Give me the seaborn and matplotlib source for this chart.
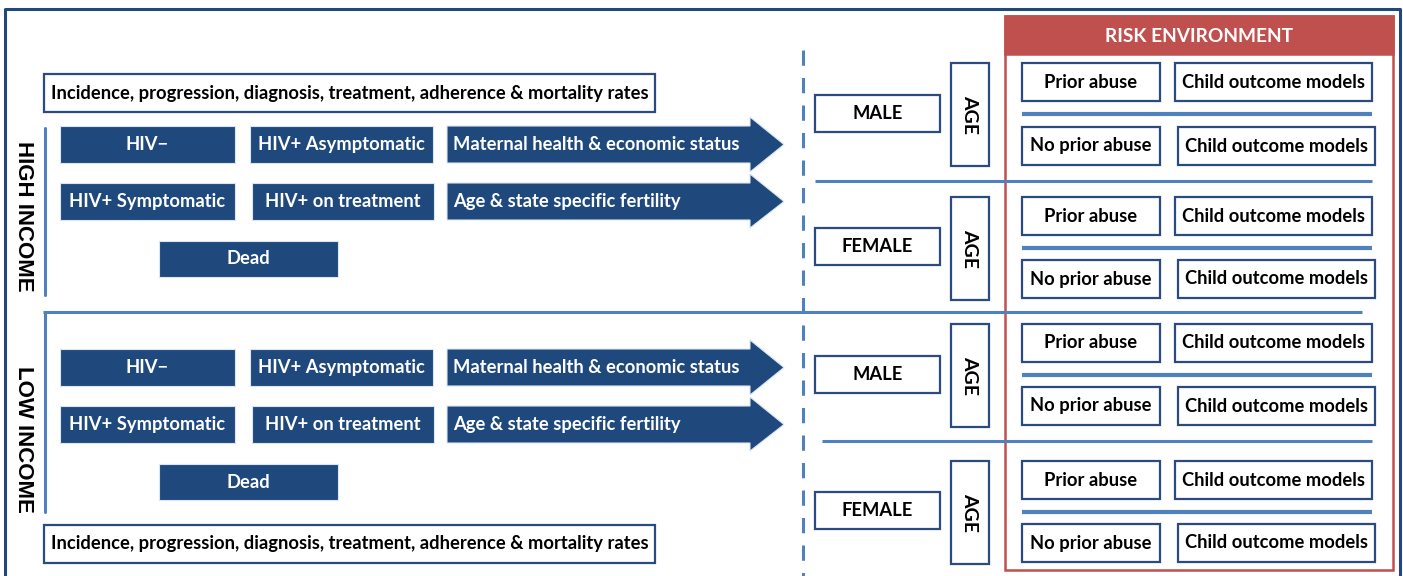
import matplotlib
matplotlib.use("Agg")
import matplotlib.pyplot as plt
from matplotlib.patches import Rectangle, Polygon
import seaborn as sns

# ── Diagram labels ─────────────────────────────────────────────────────────────
INCOME_GROUPS = ["HIGH INCOME", "LOW INCOME"]
RATES_LABEL   = "Incidence, progression, diagnosis, treatment, adherence & mortality rates"
STATES_ROW1   = ["HIV\u2212", "HIV+ Asymptomatic"]
STATES_ROW2   = ["HIV+ Symptomatic", "HIV+ on treatment"]
STATE_DEAD    = "Dead"
ARROW_LABELS  = ["Maternal health & economic status", "Age & state specific fertility"]
SEXES         = ["MALE", "FEMALE"]
AGE_LABEL     = "AGE"
RISK_TITLE    = "RISK ENVIRONMENT"
ABUSE_GROUPS  = ["Prior abuse", "No prior abuse"]
OUTCOME_LABEL = "Child outcome models"

# ── Colours ────────────────────────────────────────────────────────────────────
NAVY   = "#1f497d"
EDGE   = "#2a4a80"
LBLUE  = "#4f81bd"
RED    = "#c0504d"
FONT   = ["Lato", "DejaVu Sans"]
FS     = 13.2

sns.set_theme(style="white")
plt.rcParams["font.family"] = FONT

fig = plt.figure(figsize=(14.03, 5.76), dpi=100)
ax = fig.add_axes([0, 0, 1, 1])
ax.set_xlim(0, 1403)
ax.set_ylim(576, 0)
ax.axis("off")


def box(x0, y0, x1, y1, text, fill="white", tcolor="black", edge=EDGE,
        size=FS, rot=0, lw=1.6):
    ax.add_patch(Rectangle((x0, y0), x1 - x0, y1 - y0, facecolor=fill,
                           edgecolor=edge, linewidth=lw))
    ax.text((x0 + x1) / 2, (y0 + y1) / 2, text, ha="center", va="center",
            color=tcolor, fontsize=size, fontweight="bold", rotation=rot)


def navy_box(x0, y0, x1, y1, text):
    box(x0, y0, x1, y1, text, fill=NAVY, tcolor="white", edge="#dce6f2", lw=0.8)


def arrow(x0, y0, x1, y1, tip, hy0, hy1, text):
    ym = (y0 + y1) / 2
    pts = [(x0, y0), (x1, y0), (x1, hy0), (tip, ym), (x1, hy1), (x1, y1), (x0, y1)]
    ax.add_patch(Polygon(pts, closed=True, facecolor=NAVY, edgecolor="#dce6f2",
                         linewidth=0.8))
    ax.text(x0 + 6, ym, text, ha="left", va="center", color="white",
            fontsize=FS, fontweight="bold")


def hline(y, x0, x1, lw=2.2):
    ax.plot([x0, x1], [y, y], color=LBLUE, linewidth=lw, solid_capstyle="butt")


# outer frame (open at the bottom)
ax.plot([5, 5, 1400, 1400], [576, 9, 9, 576], color=NAVY, linewidth=2.2)

# rate boxes
box(44, 74, 655, 112, RATES_LABEL)
box(44, 525, 655, 563, RATES_LABEL)

# income blocks on the left
offsets = [0, 223]
spans = [(128, 295), (312, 512)]
for g, dy, (ys, ye) in zip(INCOME_GROUPS, offsets, spans):
    ax.text(23, 216 + dy, g, rotation=-90, ha="center", va="center",
            fontsize=16, fontweight="bold", color="black",
            family=["Liberation Sans", "DejaVu Sans"])
    ax.plot([45, 45], [ys, ye], color=LBLUE, linewidth=2.2)
    navy_box(60, 126 + dy, 235, 163 + dy, STATES_ROW1[0])
    navy_box(250, 126 + dy, 433, 163 + dy, STATES_ROW1[1])
    navy_box(60, 183 + dy, 235, 220 + dy, STATES_ROW2[0])
    navy_box(252, 183 + dy, 434, 220 + dy, STATES_ROW2[1])
    navy_box(159, 241 + dy, 338, 277 + dy, STATE_DEAD)
    arrow(447, 126 + dy, 750, 163 + dy, 784, 117 + dy, 172 + dy, ARROW_LABELS[0])
    arrow(447, 183 + dy, 750, 220 + dy, 784, 174 + dy, 228 + dy, ARROW_LABELS[1])

# dividing lines
hline(312, 43, 1362)
hline(181, 815, 1372)
hline(441, 822, 1372)
ax.plot([803, 803], [50, 576], color=LBLUE, linewidth=2.2, linestyle=(0, (5, 4)))

# risk environment frame
ax.add_patch(Rectangle((1005, 16), 388, 554, facecolor="none", edgecolor=RED, linewidth=1.8))
ax.add_patch(Rectangle((1005, 16), 388, 38, facecolor=RED, edgecolor=RED, linewidth=1.8))
ax.text(1199, 36, RISK_TITLE, ha="center", va="center", color="white",
        fontsize=13.8, fontweight="bold")

# sex / age / abuse blocks
sex_tops   = [95, 228, 356, 492]
age_tops   = [63, 197, 324, 461]
abuse_tops = [(63, 127), (197, 260), (324, 387), (461, 524)]
for i in range(4):
    box(815, sex_tops[i], 940, sex_tops[i] + 37, SEXES[i % 2])
    box(951, age_tops[i], 989, age_tops[i] + 103, AGE_LABEL, rot=-90, size=14)
    yp, yn = abuse_tops[i]
    box(1022, yp, 1160, yp + 38, ABUSE_GROUPS[0])
    box(1175, yp, 1372, yp + 38, OUTCOME_LABEL)
    hline(yp + 51, 1022, 1372, lw=3)
    box(1022, yn, 1160, yn + 38, ABUSE_GROUPS[1])
    box(1178, yn, 1375, yn + 38, OUTCOME_LABEL)

fig.savefig("out.png", dpi=100, facecolor="white")
